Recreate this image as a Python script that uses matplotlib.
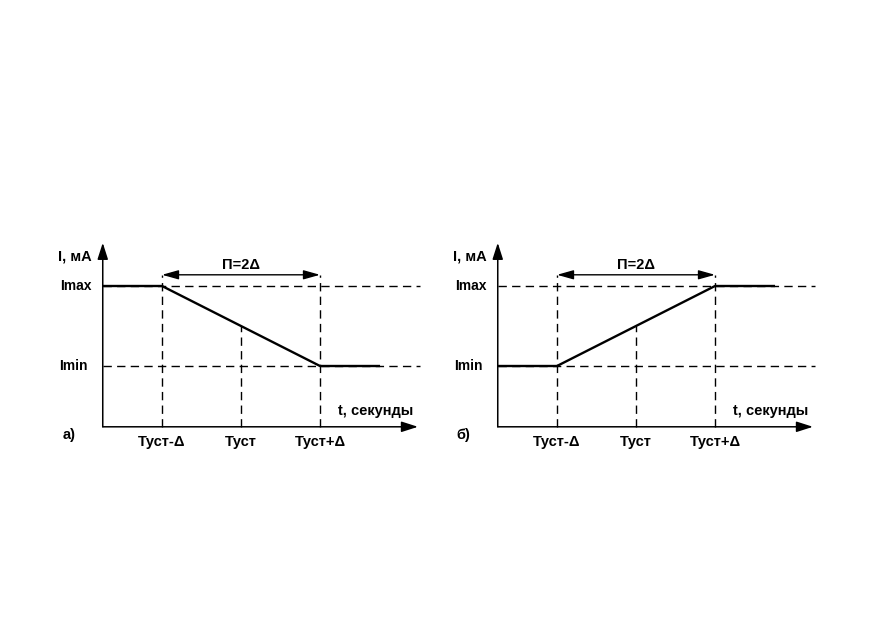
import matplotlib
matplotlib.use("Agg")
import matplotlib.pyplot as plt

plt.rcParams["font.family"] = ["Liberation Sans", "DejaVu Sans"]
plt.rcParams["font.weight"] = "bold"

# ── Data (time in units of Δ around Tуст, current normalised Imin=0, Imax=1)
T_POINTS = [-1.0, 0.0, 1.0]
T_LABELS = ["Tуст-Δ", "Tуст", "Tуст+Δ"]
I_MIN, I_MAX = 0.0, 1.0
I_LABELS = ["Imin", "Imax"]
T_AXIS_START, T_AXIS_END = -1.75, 2.24
T_DASH_END = 2.27
T_CURVE_END = 1.76
I_AXIS_START, I_AXIS_END = -0.76, 1.54
DIM_LEVEL = 1.14

# panel: (label, t-points of curve, I-values of curve, pixel x of t=0)
PANELS = [
    ("а)", [T_AXIS_START, -1.0, 1.0, T_CURVE_END], [I_MAX, I_MAX, I_MIN, I_MIN], 241),
    ("б)", [T_AXIS_START, -1.0, 1.0, T_CURVE_END], [I_MIN, I_MIN, I_MAX, I_MAX], 636),
]

W, H = 872, 618
PX_X, PX_Y = 79.0, 80.0          # pixels per unit
XLIM = (-2.5, 2.6)
YLIM = (-1.2, 1.7)
Y0_PX = 366                      # pixel row of Imin

fig = plt.figure(figsize=(W / 100, H / 100), dpi=100)

for label, tx, iy, x0 in PANELS:
    left = (x0 + XLIM[0] * PX_X) / W
    bottom = (H - Y0_PX + YLIM[0] * PX_Y) / H
    ax = fig.add_axes([left, bottom, (XLIM[1] - XLIM[0]) * PX_X / W,
                       (YLIM[1] - YLIM[0]) * PX_Y / H])
    ax.set_xlim(*XLIM)
    ax.set_ylim(*YLIM)
    ax.axis("off")

    dash = dict(color="black", linewidth=1.0, dashes=(6, 3.8))

    # horizontal reference lines
    for lvl in (I_MIN, I_MAX):
        ax.plot([T_AXIS_START, T_DASH_END], [lvl, lvl], **dash)
    # vertical reference lines
    ax.plot([-1.0, -1.0], [I_AXIS_START, DIM_LEVEL], **dash)
    ax.plot([1.0, 1.0], [I_AXIS_START, DIM_LEVEL], **dash)
    mid = (iy[1] + iy[2]) / 2
    ax.plot([0.0, 0.0], [I_AXIS_START, mid], **dash)

    # characteristic
    ax.plot(tx, iy, color="black", linewidth=1.7, solid_capstyle="butt", zorder=5)

    # axes with arrows
    arr = dict(arrowstyle="-|>,head_length=1.0,head_width=0.32", color="black",
               linewidth=1.1, shrinkA=0, shrinkB=0)
    ax.annotate("", xy=(T_AXIS_END, I_AXIS_START), xytext=(T_AXIS_START, I_AXIS_START),
                arrowprops=arr)
    ax.annotate("", xy=(T_AXIS_START, I_AXIS_END), xytext=(T_AXIS_START, I_AXIS_START),
                arrowprops=arr)

    # dimension arrow
    darr = dict(arrowstyle="<|-|>,head_length=1.0,head_width=0.28", color="black",
                linewidth=1.0, shrinkA=0, shrinkB=0)
    ax.annotate("", xy=(1.0, DIM_LEVEL), xytext=(-1.0, DIM_LEVEL), arrowprops=darr)
    ax.text(0.0, DIM_LEVEL + 0.04, "П=2Δ", ha="center", va="bottom", fontsize=10.5)

    # labels
    for t, s in zip(T_POINTS, T_LABELS):
        ax.text(t, I_AXIS_START - 0.1, s, ha="center", va="top", fontsize=10.5)
    ax.text(T_AXIS_START - 0.14, I_MAX, I_LABELS[1], ha="right", va="center", fontsize=10)
    ax.text(T_AXIS_START - 0.19, I_MIN, I_LABELS[0], ha="right", va="center", fontsize=10)
    ax.text(T_AXIS_START - 0.14, I_AXIS_END - 0.17, "I, мА", ha="right", va="center",
            fontsize=10.5)
    ax.text(T_AXIS_END - 0.06, I_AXIS_START + 0.2, "t, секунды", ha="right",
            va="center", fontsize=10.5)
    ax.text(T_AXIS_START - 0.43, I_AXIS_START - 0.1, label, ha="center", va="center",
            fontsize=10.5)

fig.savefig("out.png", dpi=100)
